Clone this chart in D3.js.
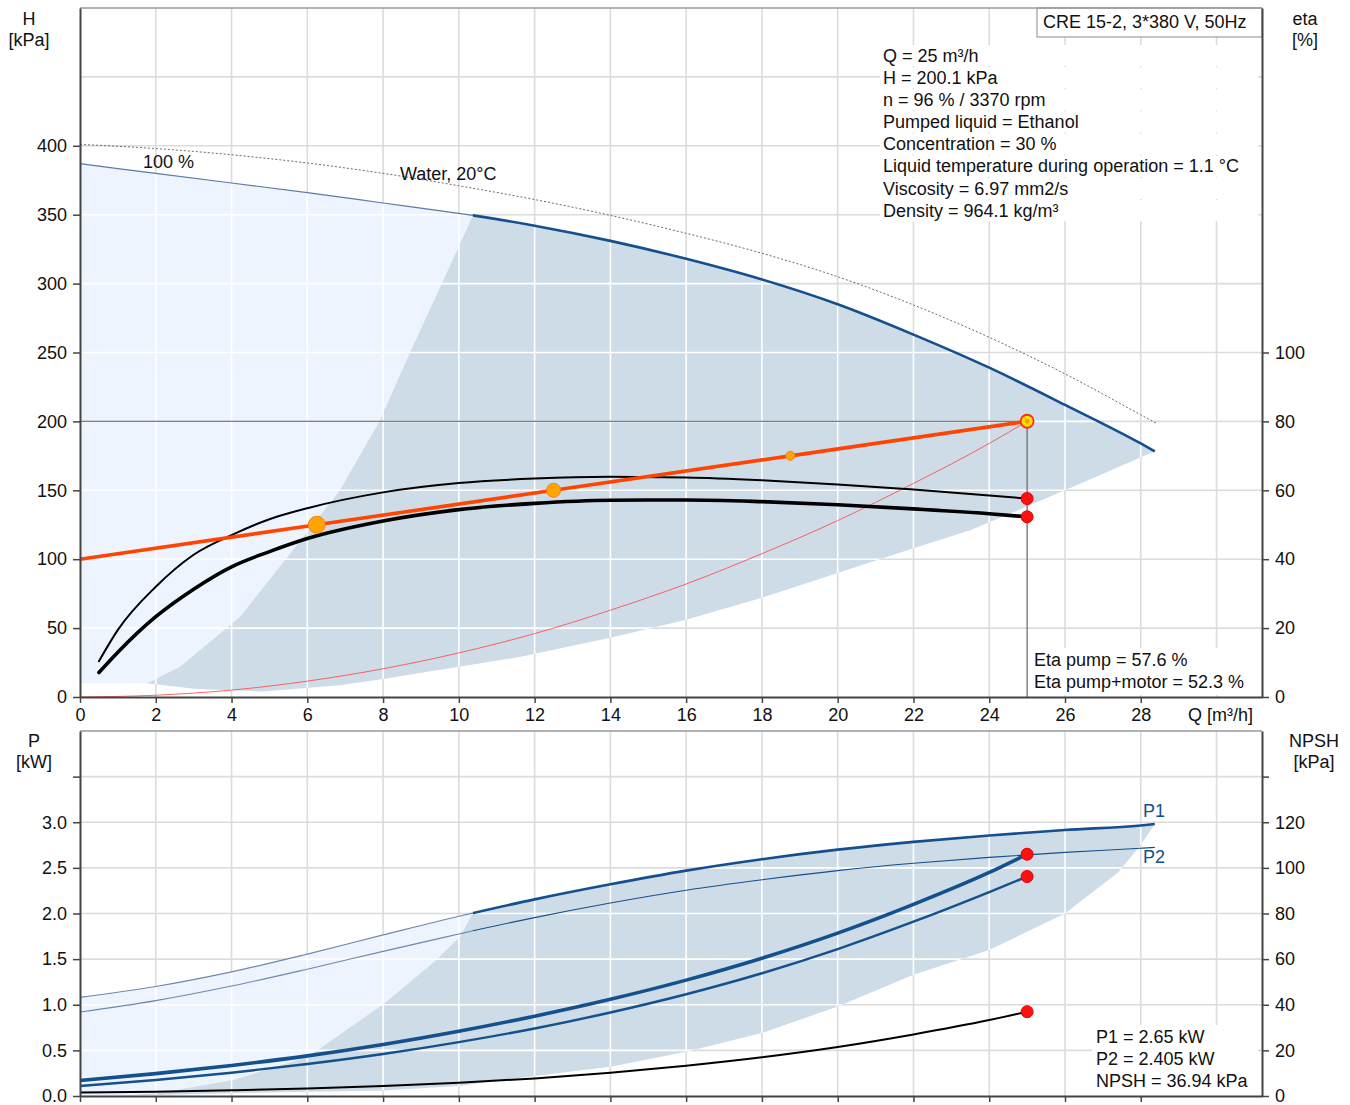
<!DOCTYPE html>
<html>
<head>
<meta charset="utf-8">
<script src="https://cdn.jsdelivr.net/npm/d3@7"></script>
<style>
  body { margin: 0; background: #fff; }
  svg { display: block; font-family: "Liberation Sans", Arial, sans-serif; }
</style>
</head>
<body>
<svg id="chart" width="1350" height="1105"></svg>
<script>
// ---------- Operating point ----------
const opQ = 25;
const opH = 200.1;
const opEtaPump = 57.6;
const opEtaTotal = 52.3;
const opP1 = 2.65;
const opP2 = 2.405;
const opNPSH = 36.94;

// ---------- Head curves (kPa vs m³/h) ----------
const headQ   = [0, 2, 4, 6, 8, 10, 10.37, 12, 14, 16, 18, 20, 22, 24, 26, 28, 28.37];
const headMax = [387, 380, 373, 366, 358.5, 351, 349.5, 342, 331, 318, 303, 285, 263, 239, 212, 184, 178.3];

const waterQ = [0, 2, 4, 6, 8, 10, 12, 14, 16, 18, 20, 22, 24, 26, 28, 28.4];
const waterH = [401, 398, 393.5, 387.5, 380, 371, 361, 349.5, 336.5, 322, 305, 284.5, 261, 234.5, 204.8, 198.8];

// system curve through the duty point
const systemQ = [0, 6.25, 12.5, 18.75, 25];
const systemH = [100, 125, 150, 175, 200.1];
const systemMarkR = [0, 8.5, 7, 4.5, 0];

// quadratic control curve through the duty point
const quadQ = [0, 2, 4, 6, 8, 10, 12, 14, 16, 18, 20, 22, 24, 25];
const quadH = [0, 1.3, 5, 11.5, 20.5, 32, 46, 63, 82, 104, 128, 155, 184, 200.1];

// ---------- Efficiency curves (%) ----------
const etaQ     = [0.5, 1, 2, 3, 4, 5, 6, 8, 10, 12, 14, 16, 18, 20, 22, 24, 25];
const etaPump  = [10.4, 19.5, 32, 41.3, 47, 51.6, 54.8, 59.4, 62.1, 63.4, 63.9, 63.7, 62.9, 61.7, 60.2, 58.5, 57.6];
const etaTotal = [7.1, 13, 23.3, 31.3, 37.8, 42.2, 46, 51.1, 54.4, 56.2, 57.1, 57.2, 56.7, 55.8, 54.6, 53.2, 52.3];

// ---------- Operating range (head panel) ----------
const rangeLeftQ = [10.37, 9.55, 8.71, 7.9, 6.86, 5.4, 4.22, 2.64, 1.77];
const rangeLeftH = [349.5, 300, 250, 200, 150, 99, 58, 22, 10];
const rangeLowQ  = [1.77, 3.0, 4.83, 6.86, 8, 11.6, 14, 16, 18, 20, 22, 23.5, 26, 28.37];
const rangeLowH  = [10, 6, 4, 8.5, 13, 29, 43, 56, 72, 90, 108, 121, 150, 178.3];
const lowSpeedQ  = [0];
const lowSpeedH  = [10];

// ---------- Power curves (kW) ----------
const powerQ = [0, 2, 4, 6, 8, 10, 10.37, 12, 14, 16, 18, 20, 22, 24, 26, 28, 28.37];
const p1Max  = [1.08, 1.2, 1.36, 1.555, 1.765, 1.97, 2.005, 2.155, 2.32, 2.47, 2.595, 2.7, 2.785, 2.855, 2.915, 2.965, 2.98];
const p2Max  = [0.92, 1.045, 1.205, 1.39, 1.585, 1.775, 1.81, 1.955, 2.115, 2.255, 2.37, 2.47, 2.55, 2.615, 2.67, 2.715, 2.725];

const dutyQ    = [0, 2, 4, 6, 8, 10, 12, 14, 16, 18, 20, 22, 24, 25];
const p1Duty   = [0.17, 0.245, 0.335, 0.44, 0.565, 0.71, 0.875, 1.06, 1.27, 1.51, 1.785, 2.1, 2.45, 2.65];
const p2Duty   = [0.11, 0.175, 0.255, 0.35, 0.46, 0.59, 0.74, 0.915, 1.115, 1.345, 1.61, 1.91, 2.235, 2.405];
const npshDuty = [1.5, 1.9, 2.5, 3.3, 4.4, 5.8, 7.7, 10.2, 13.3, 17.0, 21.5, 27.0, 33.3, 36.94];

// ---------- Operating range (power panel) ----------
const pLeftQ = [10.37, 10.03, 9.32, 8.05, 6.02, 4.04, 2.03, 1.0];
const pLeftP = [2.005, 1.745, 1.46, 1.02, 0.43, 0.175, 0.03, 0];
const pLowQ  = [1.0, 4, 8, 10, 12, 14, 16, 18, 20, 22, 24, 26, 27.4, 28, 28.37];
const pLowP  = [0, 0.03, 0.06, 0.11, 0.22, 0.32, 0.485, 0.69, 0.98, 1.33, 1.6, 2.0, 2.45, 2.75, 2.98];

// ---------- Ticks and labels ----------
const qTicks = [0, 2, 4, 6, 8, 10, 12, 14, 16, 18, 20, 22, 24, 26, 28];
const qGrid = [2, 4, 6, 8, 10, 12, 14, 16, 18, 20, 22, 24, 26, 28, 30];
const hTicks = [0, 50, 100, 150, 200, 250, 300, 350, 400];
const hGrid = [50, 100, 150, 200, 250, 300, 350, 400, 450];
const etaTicks = [0, 20, 40, 60, 80, 100];
const pTicks = [0, 0.5, 1.0, 1.5, 2.0, 2.5, 3.0, 3.5];
const pGrid = [0.5, 1.0, 1.5, 2.0, 2.5, 3.0, 3.5];
const npshTicks = [0, 20, 40, 60, 80, 100, 120, 140];

const pumpTitle = "CRE 15-2, 3*380 V, 50Hz";
const infoLines = [
  `Q = ${opQ} m³/h`,
  `H = ${opH} kPa`,
  "n = 96 % / 3370 rpm",
  "Pumped liquid = Ethanol",
  "Concentration = 30 %",
  "Liquid temperature during operation = 1.1 °C",
  "Viscosity = 6.97 mm2/s",
  "Density = 964.1 kg/m³"
];
const etaLines = [`Eta pump = ${opEtaPump} %`, `Eta pump+motor = ${opEtaTotal} %`];
const powerLines = [`P1 = ${opP1} kW`, `P2 = ${opP2} kW`, `NPSH = ${opNPSH} kPa`];

// ---------- Scales ----------
const svg = d3.select("#chart");
const x = d3.scaleLinear().domain([0, 31.2]).range([80, 1262]);
const yH = d3.scaleLinear().domain([0, 500]).range([697, 8]);
const yEta = d3.scaleLinear().domain([0, 200]).range([697, 8]);
const yP = d3.scaleLinear().domain([0, 4]).range([1096, 731]);
const yN = d3.scaleLinear().domain([0, 160]).range([1096, 731]);

const zip = (a, b) => a.map((v, i) => [v, b[i]]);
const smooth = (ys) => d3.line().x(d => x(d[0])).y(d => ys(d[1])).curve(d3.curveMonotoneX);
const straight = (ys) => d3.line().x(d => x(d[0])).y(d => ys(d[1]));

function region(ys, topPts, restPts) {
  const top = smooth(ys)(topPts);
  const rest = restPts.map(p => `L${x(p[0])},${ys(p[1])}`).join("");
  return top + rest + "Z";
}

const defs = svg.append("defs");
const FONT = 18;
const GRID = "#dcdcdc";
const BLUE = "#13508d";
const THIN = "#5d7ba2";

function panelGrid(g, ys, yVals, y0, y1) {
  g.selectAll(null).data(qGrid).join("line")
    .attr("x1", d => x(d)).attr("x2", d => x(d))
    .attr("y1", y0).attr("y2", y1);
  g.selectAll(null).data(yVals).join("line")
    .attr("x1", x(0)).attr("x2", 1262)
    .attr("y1", d => ys(d)).attr("y2", d => ys(d));
}

function styleAxis(g, width) {
  g.select(".domain").attr("stroke", "#444").attr("stroke-width", width);
  g.selectAll(".tick line").attr("stroke", "#444").attr("stroke-width", 1.5);
  g.selectAll("text").attr("font-size", FONT).attr("font-family", "Liberation Sans, Arial, sans-serif").attr("fill", "#111");
}

function label(g, x0, y0, txt, anchor, color) {
  return g.append("text").attr("x", x0).attr("y", y0).attr("text-anchor", anchor || "start")
    .attr("font-size", FONT).attr("fill", color || "#111").text(txt);
}

// ================= Head / efficiency panel =================
const headTop = zip(headQ, headMax);
const lightHeadPath = region(yH, headTop.filter(d => d[0] <= 10.37),
  zip(rangeLeftQ, rangeLeftH).slice(1).concat(zip(lowSpeedQ, lowSpeedH)));
const darkHeadPath = region(yH, headTop.filter(d => d[0] >= 10.37),
  zip(rangeLowQ, rangeLowH).reverse().concat(zip(rangeLeftQ, rangeLeftH).reverse()));

const gTop = svg.append("g");
panelGrid(gTop.append("g").attr("stroke", GRID).attr("stroke-width", 1.6), yH, hGrid, 8, 697);

gTop.append("path").attr("d", lightHeadPath).attr("fill", "#eef4fd");
gTop.append("path").attr("d", darkHeadPath).attr("fill", "#cedce7");

defs.append("clipPath").attr("id", "clipHeadFill")
  .call(c => { c.append("path").attr("d", lightHeadPath); c.append("path").attr("d", darkHeadPath); });
panelGrid(gTop.append("g").attr("clip-path", "url(#clipHeadFill)").attr("stroke", "#ffffff").attr("stroke-width", 1.6),
  yH, hGrid, 8, 697);

// title box and parameter block
gTop.append("rect").attr("x", 1037).attr("y", 8).attr("width", 225).attr("height", 29)
  .attr("fill", "#fff").attr("stroke", "#8a8a8a").attr("stroke-width", 1);
label(gTop, 1043, 28, pumpTitle);

const infoG = gTop.append("g");
infoLines.forEach((t, i) => {
  const base = 61.5 + i * 22.17;
  infoG.append("rect").attr("x", 880).attr("y", base - 16.5).attr("width", 378).attr("height", 21).attr("fill", "#fff");
  label(infoG, 883, base, t);
});

// curves
gTop.append("path").attr("d", smooth(yH)(zip(waterQ, waterH)))
  .attr("fill", "none").attr("stroke", "#6a6a6a").attr("stroke-width", 1).attr("stroke-dasharray", "2,2");

gTop.append("path").attr("d", smooth(yH)(headTop))
  .attr("fill", "none").attr("stroke", THIN).attr("stroke-width", 1.2);
defs.append("clipPath").attr("id", "clipRightTop").append("rect")
  .attr("x", x(10.37)).attr("y", 0).attr("width", 1262 - x(10.37)).attr("height", 700);
gTop.append("path").attr("d", smooth(yH)(headTop)).attr("clip-path", "url(#clipRightTop)")
  .attr("fill", "none").attr("stroke", BLUE).attr("stroke-width", 2.6);

gTop.append("path").attr("d", smooth(yH)(zip(quadQ, quadH)))
  .attr("fill", "none").attr("stroke", "#ff4a4a").attr("stroke-width", 1).attr("opacity", 0.85);

// duty point guide lines
gTop.append("line").attr("x1", x(0)).attr("x2", x(opQ)).attr("y1", yH(opH)).attr("y2", yH(opH))
  .attr("stroke", "#555").attr("stroke-width", 1.2);
gTop.append("line").attr("x1", x(opQ)).attr("x2", x(opQ)).attr("y1", yH(opH)).attr("y2", yH(0))
  .attr("stroke", "#666").attr("stroke-width", 1.2);

// efficiency
gTop.append("path").attr("d", smooth(yEta)(zip(etaQ, etaPump)))
  .attr("fill", "none").attr("stroke", "#000").attr("stroke-width", 2).attr("stroke-linecap", "round");
gTop.append("path").attr("d", smooth(yEta)(zip(etaQ, etaTotal)))
  .attr("fill", "none").attr("stroke", "#000").attr("stroke-width", 3.6).attr("stroke-linecap", "round");

// system curve with markers
const sysPts = zip(systemQ, systemH).map((d, i) => ({ q: d[0], h: d[1], r: systemMarkR[i] }));
gTop.append("path").attr("d", straight(yH)(sysPts.map(d => [d.q, d.h])))
  .attr("fill", "none").attr("stroke", "#ff4500").attr("stroke-width", 3.6);
gTop.selectAll(null).data(sysPts.filter(d => d.r > 0)).join("circle")
  .attr("cx", d => x(d.q)).attr("cy", d => yH(d.h)).attr("r", d => d.r)
  .attr("fill", "#ffa500").attr("stroke", "#ff7a1a").attr("stroke-width", 1);

// efficiency values at duty point
gTop.selectAll(null).data([opEtaPump, opEtaTotal]).join("circle")
  .attr("cx", x(opQ)).attr("cy", d => yEta(d)).attr("r", 6)
  .attr("fill", "#ff1010").attr("stroke", "#e00000").attr("stroke-width", 1);

// duty point
gTop.append("circle").attr("cx", x(opQ)).attr("cy", yH(opH)).attr("r", 6.5)
  .attr("fill", "#ffe100").attr("stroke", "#ff2a1a").attr("stroke-width", 1.8);
gTop.append("circle").attr("cx", x(opQ)).attr("cy", yH(opH)).attr("r", 2.4).attr("fill", "#f2a000");

// curve captions
label(gTop, 143, 168, "100 %");
label(gTop, 400, 180, "Water, 20°C");

// efficiency readout
const etaG = gTop.append("g");
etaG.append("rect").attr("x", 1030).attr("y", 648).attr("width", 228).attr("height", 47).attr("fill", "#fff");
etaLines.forEach((t, i) => label(etaG, 1034, 666 + i * 22, t));

// frame and axes
gTop.append("line").attr("x1", x(0)).attr("x2", 1262).attr("y1", 8).attr("y2", 8)
  .attr("stroke", "#999").attr("stroke-width", 1.5);

gTop.append("g").attr("transform", `translate(${x(0)},0)`)
  .call(d3.axisLeft(yH).tickValues(hTicks).tickSize(7).tickSizeOuter(0).tickPadding(6))
  .call(g => styleAxis(g, 2));
gTop.append("g").attr("transform", "translate(1262,0)")
  .call(d3.axisRight(yEta).tickValues(etaTicks).tickSize(7).tickSizeOuter(0).tickPadding(6))
  .call(g => styleAxis(g, 2));
gTop.append("g").attr("transform", `translate(0,${yH(0)})`)
  .call(d3.axisBottom(x).tickValues(qTicks).tickSize(6).tickSizeOuter(0).tickPadding(5))
  .call(g => styleAxis(g, 2));

label(gTop, 1188, 721, "Q [m³/h]");
label(gTop, 29, 25, "H", "middle");
label(gTop, 29, 46, "[kPa]", "middle");
label(gTop, 1305, 25, "eta", "middle");
label(gTop, 1305, 46, "[%]", "middle");

// ================= Power / NPSH panel =================
const p1Top = zip(powerQ, p1Max);
const lightPowPath = region(yP, p1Top.filter(d => d[0] <= 10.37),
  zip(pLeftQ, pLeftP).slice(1).concat([[0, 0]]));
const darkPowPath = region(yP, p1Top.filter(d => d[0] >= 10.37),
  zip(pLowQ, pLowP).reverse().concat(zip(pLeftQ, pLeftP).reverse()));

const gBot = svg.append("g");
panelGrid(gBot.append("g").attr("stroke", GRID).attr("stroke-width", 1.6), yP, pGrid, 731, 1096);
gBot.append("path").attr("d", lightPowPath).attr("fill", "#eef4fd");
gBot.append("path").attr("d", darkPowPath).attr("fill", "#cedce7");
defs.append("clipPath").attr("id", "clipPowFill")
  .call(c => { c.append("path").attr("d", lightPowPath); c.append("path").attr("d", darkPowPath); });
panelGrid(gBot.append("g").attr("clip-path", "url(#clipPowFill)").attr("stroke", "#ffffff").attr("stroke-width", 1.6),
  yP, pGrid, 731, 1096);

// readout block
const powG = gBot.append("g");
powG.append("rect").attr("x", 1092).attr("y", 1025).attr("width", 166).attr("height", 71).attr("fill", "#fff");
powerLines.forEach((t, i) => label(powG, 1096, 1042.5 + i * 22, t));

// full-speed power curves
defs.append("clipPath").attr("id", "clipRightBot").append("rect")
  .attr("x", x(10.37)).attr("y", 720).attr("width", 1262 - x(10.37)).attr("height", 400);
defs.append("clipPath").attr("id", "clipLeftBot").append("rect")
  .attr("x", 0).attr("y", 720).attr("width", x(10.37)).attr("height", 400);

const p2Top = zip(powerQ, p2Max);
gBot.append("path").attr("d", smooth(yP)(p1Top)).attr("clip-path", "url(#clipLeftBot)")
  .attr("fill", "none").attr("stroke", "#6f88aa").attr("stroke-width", 1.2);
gBot.append("path").attr("d", smooth(yP)(p1Top)).attr("clip-path", "url(#clipRightBot)")
  .attr("fill", "none").attr("stroke", BLUE).attr("stroke-width", 2.6);
gBot.append("path").attr("d", smooth(yP)(p2Top)).attr("clip-path", "url(#clipLeftBot)")
  .attr("fill", "none").attr("stroke", "#6f88aa").attr("stroke-width", 1.1);
gBot.append("path").attr("d", smooth(yP)(p2Top)).attr("clip-path", "url(#clipRightBot)")
  .attr("fill", "none").attr("stroke", BLUE).attr("stroke-width", 1.1);

// duty-speed power and NPSH curves
gBot.append("path").attr("d", smooth(yP)(zip(dutyQ, p1Duty)))
  .attr("fill", "none").attr("stroke", BLUE).attr("stroke-width", 3.6);
gBot.append("path").attr("d", smooth(yP)(zip(dutyQ, p2Duty)))
  .attr("fill", "none").attr("stroke", BLUE).attr("stroke-width", 2.4);
gBot.append("path").attr("d", smooth(yN)(zip(dutyQ, npshDuty)))
  .attr("fill", "none").attr("stroke", "#000").attr("stroke-width", 2);

gBot.selectAll(null).data([yP(opP1), yP(opP2), yN(opNPSH)]).join("circle")
  .attr("cx", x(opQ)).attr("cy", d => d).attr("r", 6)
  .attr("fill", "#ff1010").attr("stroke", "#e00000").attr("stroke-width", 1);

label(gBot, 1143, 817, "P1", "start", BLUE);
label(gBot, 1143, 863, "P2", "start", BLUE);

gBot.append("line").attr("x1", x(0)).attr("x2", 1262).attr("y1", 731).attr("y2", 731)
  .attr("stroke", "#999").attr("stroke-width", 1.5);
gBot.append("g").attr("transform", `translate(${x(0)},0)`)
  .call(d3.axisLeft(yP).tickValues(pTicks).tickSize(7).tickSizeOuter(0).tickPadding(6)
    .tickFormat(d => d > 3.2 ? "" : d3.format(".1f")(d)))
  .call(g => styleAxis(g, 2));
gBot.append("g").attr("transform", "translate(1262,0)")
  .call(d3.axisRight(yN).tickValues(npshTicks).tickSize(7).tickSizeOuter(0).tickPadding(6)
    .tickFormat(d => d > 130 ? "" : d))
  .call(g => styleAxis(g, 2));
gBot.append("g").attr("transform", `translate(0,${yP(0)})`)
  .call(d3.axisBottom(x).tickValues(qTicks).tickSize(6).tickSizeOuter(0).tickFormat(""))
  .call(g => styleAxis(g, 2));

label(gBot, 34, 747, "P", "middle");
label(gBot, 34, 768, "[kW]", "middle");
label(gBot, 1314, 747, "NPSH", "middle");
label(gBot, 1314, 768, "[kPa]", "middle");
</script>
</body>
</html>
